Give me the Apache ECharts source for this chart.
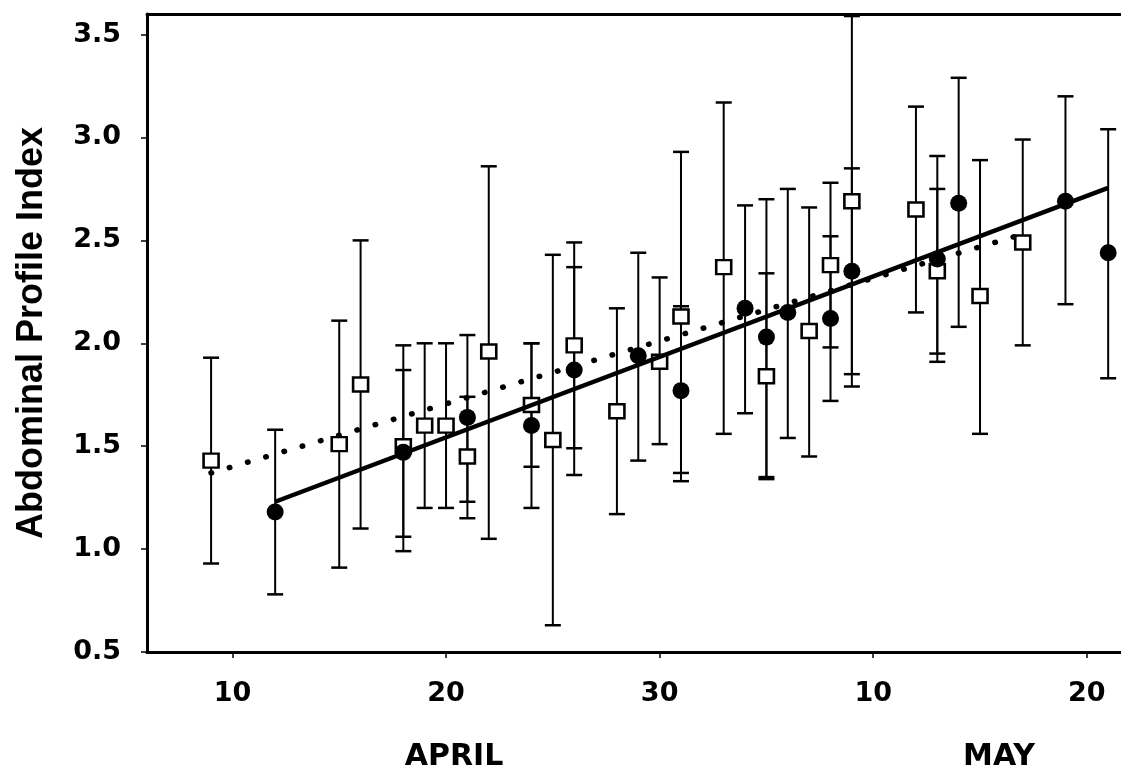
<!DOCTYPE html>
<html>
<head>
<meta charset="utf-8">
<script src="https://cdn.jsdelivr.net/npm/echarts@6/dist/echarts.min.js"></script>
<style>
html,body{margin:0;padding:0;background:#fff;}
#c{width:1121px;height:774px;}
</style>
</head>
<body>
<div id="c"></div>
<script>
// Day numbers counted from April 0 (May d = 30 + d)
const squareDays  = [9, 15, 16, 18, 19, 20, 21, 22, 24, 25, 26, 28, 30, 31, 33, 35, 37, 38, 39, 42, 43, 45, 47];
const squareMean  = [1.43, 1.51, 1.80, 1.50, 1.60, 1.60, 1.45, 1.96, 1.70, 1.53, 1.99, 1.67, 1.91, 2.13, 2.37, 1.84, 2.06, 2.38, 2.69, 2.65, 2.35, 2.23, 2.49];
const squareUpper = [1.93, 2.11, 2.50, 1.99, 2.00, 2.00, 1.74, 2.86, 2.00, 2.43, 2.49, 2.17, 2.32, 2.93, 3.17, 2.34, 2.66, 2.78, 3.59, 3.15, 2.75, 2.89, 2.99];
const squareLower = [0.93, 0.91, 1.10, 0.99, 1.20, 1.20, 1.15, 1.05, 1.40, 0.63, 1.49, 1.17, 1.51, 1.33, 1.56, 1.34, 1.45, 1.98, 1.79, 2.15, 1.95, 1.56, 1.99];

const circleDays  = [12, 18, 21, 24, 26, 29, 31, 34, 35, 36, 38, 39, 43, 44, 49, 51];
const circleMean  = [1.18, 1.47, 1.64, 1.60, 1.87, 1.94, 1.77, 2.17, 2.03, 2.15, 2.12, 2.35, 2.41, 2.68, 2.69, 2.44];
const circleUpper = [1.58, 1.87, 2.04, 2.00, 2.37, 2.44, 2.18, 2.67, 2.70, 2.75, 2.52, 2.85, 2.91, 3.29, 3.20, 3.04];
const circleLower = [0.78, 1.06, 1.23, 1.20, 1.36, 1.43, 1.37, 1.66, 1.35, 1.54, 1.72, 1.85, 1.91, 2.08, 2.19, 1.83];

const solidFitX  = [12, 51];
const solidFitY  = [1.23, 2.755];
const dottedFitX = [9, 47];
const dottedFitY = [1.37, 2.53];

const xTickValues = [10, 20, 30, 40, 50];
const xTickLabels = ['10', '20', '30', '10', '20'];
const yTickValues = [0.5, 1.0, 1.5, 2.0, 2.5, 3.0, 3.5];
const monthLabels = ['APRIL', 'MAY'];

const chart = echarts.init(document.getElementById('c'), null, {renderer: 'canvas'});

function errRender(params, api) {
  const x = api.value(0), lo = api.value(1), hi = api.value(2);
  const pTop = api.coord([x, hi]);
  const pBot = api.coord([x, lo]);
  const w = 8;
  const st = {stroke: '#000', lineWidth: 2};
  return {
    type: 'group',
    children: [
      {type: 'line', shape: {x1: pTop[0], y1: pTop[1], x2: pBot[0], y2: pBot[1]}, style: st},
      {type: 'line', shape: {x1: pTop[0] - w, y1: pTop[1], x2: pTop[0] + w, y2: pTop[1]}, style: {stroke: '#000', lineWidth: 2.5}},
      {type: 'line', shape: {x1: pBot[0] - w, y1: pBot[1], x2: pBot[0] + w, y2: pBot[1]}, style: {stroke: '#000', lineWidth: 2.5}}
    ]
  };
}

const tickFont = {fontFamily: 'DejaVu Sans', fontWeight: 'bold', fontSize: 27, color: '#000'};

const option = {
  animation: false,
  backgroundColor: '#fff',
  grid: {left: 147, top: 14, right: 0, bottom: 122, containLabel: false},
  xAxis: [{
    type: 'value', min: 6, max: 51.6, position: 'bottom',
    splitLine: {show: false},
    axisLine: {show: true, onZero: false, lineStyle: {color: '#000', width: 3}},
    axisTick: {show: true, length: 6, lineStyle: {color: '#000', width: 1.5}, customValues: xTickValues},
    axisLabel: Object.assign({
      margin: 28, customValues: xTickValues,
      formatter: function (v) { const i = xTickValues.indexOf(v); return i >= 0 ? xTickLabels[i] : ''; }
    }, tickFont)
  }, {
    type: 'value', min: 6, max: 51.6, position: 'top',
    splitLine: {show: false},
    axisLine: {show: true, onZero: false, lineStyle: {color: '#000', width: 3}},
    axisTick: {show: false}, axisLabel: {show: false}
  }],
  yAxis: {
    type: 'value', min: 0.5, max: 3.6,
    splitLine: {show: false},
    axisLine: {show: true, onZero: false, lineStyle: {color: '#000', width: 3}},
    axisTick: {show: true, length: 6, lineStyle: {color: '#000', width: 1.5}, customValues: yTickValues},
    axisLabel: Object.assign({
      margin: 26, customValues: yTickValues,
      formatter: function (v) { return v.toFixed(1); }
    }, tickFont),
    name: 'Abdominal Profile Index',
    nameLocation: 'middle',
    nameRotate: 90,
    nameGap: 97,
    nameTextStyle: {fontFamily: 'Liberation Sans', fontWeight: 'bold', fontSize: 36, color: '#000'}
  },
  graphic: [
    {type: 'text', x: 454, y: 757, style: {text: monthLabels[0], textAlign: 'center', textVerticalAlign: 'middle', font: 'bold 30px "DejaVu Sans"', fill: '#000'}},
    {type: 'text', x: 999, y: 757, style: {text: monthLabels[1], textAlign: 'center', textVerticalAlign: 'middle', font: 'bold 30px "DejaVu Sans"', fill: '#000'}}
  ],
  series: [
    {
      type: 'custom', name: 'sqErr', renderItem: errRender, z: 1,
      encode: {x: 0, y: [1, 2]},
      data: squareDays.map((d, i) => [d, squareLower[i], squareUpper[i]])
    },
    {
      type: 'custom', name: 'ciErr', renderItem: errRender, z: 1,
      encode: {x: 0, y: [1, 2]},
      data: circleDays.map((d, i) => [d, circleLower[i], circleUpper[i]])
    },
    {
      type: 'scatter', name: 'squares', z: 3,
      symbol: 'rect', symbolSize: [15, 14],
      itemStyle: {color: '#fff', borderColor: '#000', borderWidth: 2.5, opacity: 1},
      data: squareDays.map((d, i) => [d, squareMean[i]])
    },
    {
      type: 'scatter', name: 'circles', z: 4,
      symbol: 'circle', symbolSize: 17,
      itemStyle: {color: '#000', opacity: 1},
      data: circleDays.map((d, i) => [d, circleMean[i]])
    },
    {
      type: 'line', name: 'fitSolid', z: 5, symbol: 'none',
      lineStyle: {color: '#000', width: 4.5},
      data: solidFitX.map((d, i) => [d, solidFitY[i]])
    },
    {
      type: 'line', name: 'fitDotted', z: 5, symbol: 'none',
      lineStyle: {color: '#000', width: 5.5, type: [0.5, 18.5], cap: 'round'},
      data: dottedFitX.map((d, i) => [d, dottedFitY[i]])
    }
  ]
};
chart.setOption(option);
</script>
</body>
</html>
